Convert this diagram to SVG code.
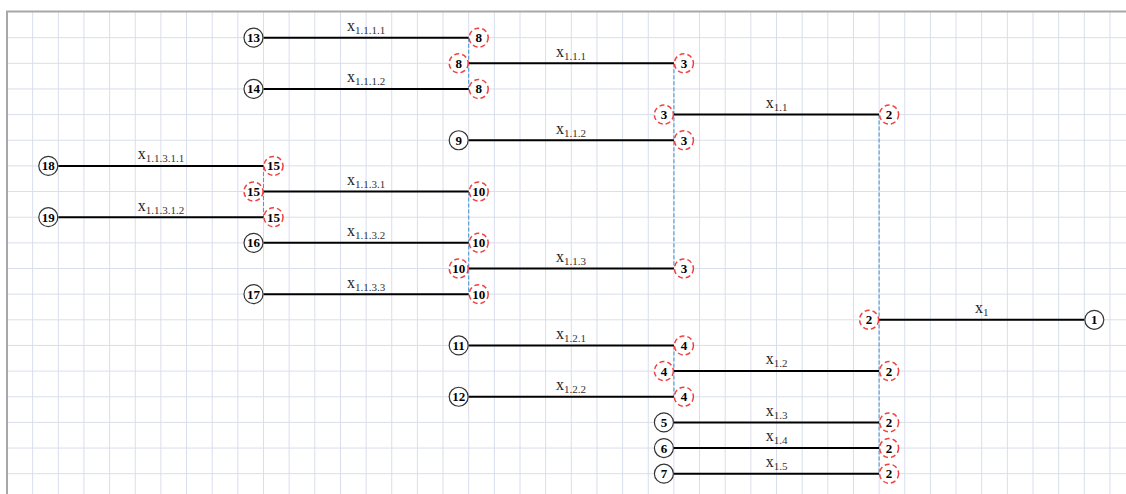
<svg xmlns="http://www.w3.org/2000/svg" width="1126" height="494" viewBox="0 0 1126 494">
<style>
.grid{stroke:#d9deec;stroke-width:1;fill:none}
.border{stroke:#a8a8a8;stroke-width:2;fill:none}
.edge{stroke:#000;stroke-width:2}
.link{stroke:#4a98d8;stroke-width:1.1;stroke-dasharray:4 2;fill:none}
.blk circle{fill:#fff;stroke:#333;stroke-width:1.2}
.red circle{fill:#fff;stroke:#f04040;stroke-width:1.5;stroke-dasharray:5 3}
.node text{font-family:"Liberation Serif",serif;font-weight:bold;font-size:13px;text-anchor:middle;fill:#000}
.lbl{font-family:"Liberation Serif",serif;font-size:16px;text-anchor:middle;fill:#222}
.lbl tspan{font-size:11px;fill:#333}
</style>
<rect width="1126" height="494" fill="#fff"/>
<g id="grid">
<path class="grid" d="M32.65 12V494M58.3 12V494M83.95 12V494M109.6 12V494M135.25 12V494M160.9 12V494M186.55 12V494M212.2 12V494M237.85 12V494M263.5 12V494M289.15 12V494M314.8 12V494M340.45 12V494M366.1 12V494M391.75 12V494M417.4 12V494M443.05 12V494M468.7 12V494M494.35 12V494M520 12V494M545.65 12V494M571.3 12V494M596.95 12V494M622.6 12V494M648.25 12V494M673.9 12V494M699.55 12V494M725.2 12V494M750.85 12V494M776.5 12V494M802.15 12V494M827.8 12V494M853.45 12V494M879.1 12V494M904.75 12V494M930.4 12V494M956.05 12V494M981.7 12V494M1007.35 12V494M1033 12V494M1058.65 12V494M1084.3 12V494M1109.95 12V494
M7 37.65H1126M7 63.3H1126M7 88.95H1126M7 114.6H1126M7 140.25H1126M7 165.9H1126M7 191.55H1126M7 217.2H1126M7 242.85H1126M7 268.5H1126M7 294.15H1126M7 319.8H1126M7 345.45H1126M7 371.1H1126M7 396.75H1126M7 422.4H1126M7 448.05H1126M7 473.7H1126"/>
<path class="border" d="M7 494V11.5H1126"/>
</g>
<g id="connectors">
<path class="link" d="M468.7 37.65V88.95M468.7 191.55V294.15M263.5 165.9V217.2M673.9 63.3V268.5M673.9 345.45V396.75M879.1 114.6V473.7"/>
<path class="edge" d="M263.5 37.65H468.7M468.7 63.3H673.9M263.5 88.95H468.7M673.9 114.6H879.1M468.7 140.25H673.9M58.3 165.9H263.5M263.5 191.55H468.7M58.3 217.2H263.5M263.5 242.85H468.7M468.7 268.5H673.9M263.5 294.15H468.7M879.1 319.8H1084.3M468.7 345.45H673.9M673.9 371.1H879.1M468.7 396.75H673.9M673.9 422.4H879.1M673.9 448.05H879.1M673.9 473.7H879.1"/>
<g id="labels">
<text class="lbl" x="366" y="31">x<tspan dy="3">1.1.1.1</tspan></text>
<text class="lbl" x="571" y="56.6">x<tspan dy="3">1.1.1</tspan></text>
<text class="lbl" x="366" y="82.3">x<tspan dy="3">1.1.1.2</tspan></text>
<text class="lbl" x="776.5" y="107.9">x<tspan dy="3">1.1</tspan></text>
<text class="lbl" x="571" y="133.6">x<tspan dy="3">1.1.2</tspan></text>
<text class="lbl" x="161" y="159.2">x<tspan dy="3">1.1.3.1.1</tspan></text>
<text class="lbl" x="366" y="184.9">x<tspan dy="3">1.1.3.1</tspan></text>
<text class="lbl" x="161" y="210.5">x<tspan dy="3">1.1.3.1.2</tspan></text>
<text class="lbl" x="366" y="236.2">x<tspan dy="3">1.1.3.2</tspan></text>
<text class="lbl" x="571" y="261.8">x<tspan dy="3">1.1.3</tspan></text>
<text class="lbl" x="366" y="287.5">x<tspan dy="3">1.1.3.3</tspan></text>
<text class="lbl" x="981.7" y="313.1">x<tspan dy="3">1</tspan></text>
<text class="lbl" x="571" y="338.8">x<tspan dy="3">1.2.1</tspan></text>
<text class="lbl" x="776.5" y="364.4">x<tspan dy="3">1.2</tspan></text>
<text class="lbl" x="571" y="390.1">x<tspan dy="3">1.2.2</tspan></text>
<text class="lbl" x="776.5" y="415.7">x<tspan dy="3">1.3</tspan></text>
<text class="lbl" x="776.5" y="441.4">x<tspan dy="3">1.4</tspan></text>
<text class="lbl" x="776.5" y="467">x<tspan dy="3">1.5</tspan></text>
</g>
</g>
<g id="n13" class="node blk" transform="translate(253.5,37.65)"><circle r="9.5"/><text y="4.5">13</text></g>
<g id="n8a" class="node red" transform="translate(478.7,37.65)"><circle r="9.5"/><text y="4.5">8</text></g>
<g id="n8b" class="node red" transform="translate(458.7,63.3)"><circle r="9.5"/><text y="4.5">8</text></g>
<g id="n3a" class="node red" transform="translate(683.9,63.3)"><circle r="9.5"/><text y="4.5">3</text></g>
<g id="n14" class="node blk" transform="translate(253.5,88.95)"><circle r="9.5"/><text y="4.5">14</text></g>
<g id="n8c" class="node red" transform="translate(478.7,88.95)"><circle r="9.5"/><text y="4.5">8</text></g>
<g id="n3b" class="node red" transform="translate(663.9,114.6)"><circle r="9.5"/><text y="4.5">3</text></g>
<g id="n2a" class="node red" transform="translate(889.1,114.6)"><circle r="9.5"/><text y="4.5">2</text></g>
<g id="n9" class="node blk" transform="translate(458.7,140.25)"><circle r="9.5"/><text y="4.5">9</text></g>
<g id="n3c" class="node red" transform="translate(683.9,140.25)"><circle r="9.5"/><text y="4.5">3</text></g>
<g id="n18" class="node blk" transform="translate(48.3,165.9)"><circle r="9.5"/><text y="4.5">18</text></g>
<g id="n15a" class="node red" transform="translate(273.5,165.9)"><circle r="9.5"/><text y="4.5">15</text></g>
<g id="n15b" class="node red" transform="translate(253.5,191.55)"><circle r="9.5"/><text y="4.5">15</text></g>
<g id="n10a" class="node red" transform="translate(478.7,191.55)"><circle r="9.5"/><text y="4.5">10</text></g>
<g id="n19" class="node blk" transform="translate(48.3,217.2)"><circle r="9.5"/><text y="4.5">19</text></g>
<g id="n15c" class="node red" transform="translate(273.5,217.2)"><circle r="9.5"/><text y="4.5">15</text></g>
<g id="n16" class="node blk" transform="translate(253.5,242.85)"><circle r="9.5"/><text y="4.5">16</text></g>
<g id="n10b" class="node red" transform="translate(478.7,242.85)"><circle r="9.5"/><text y="4.5">10</text></g>
<g id="n10c" class="node red" transform="translate(458.7,268.5)"><circle r="9.5"/><text y="4.5">10</text></g>
<g id="n3d" class="node red" transform="translate(683.9,268.5)"><circle r="9.5"/><text y="4.5">3</text></g>
<g id="n17" class="node blk" transform="translate(253.5,294.15)"><circle r="9.5"/><text y="4.5">17</text></g>
<g id="n10d" class="node red" transform="translate(478.7,294.15)"><circle r="9.5"/><text y="4.5">10</text></g>
<g id="n2b" class="node red" transform="translate(869.1,319.8)"><circle r="9.5"/><text y="4.5">2</text></g>
<g id="n1" class="node blk" transform="translate(1094.3,319.8)"><circle r="9.5"/><text y="4.5">1</text></g>
<g id="n11" class="node blk" transform="translate(458.7,345.45)"><circle r="9.5"/><text y="4.5">11</text></g>
<g id="n4a" class="node red" transform="translate(683.9,345.45)"><circle r="9.5"/><text y="4.5">4</text></g>
<g id="n4b" class="node red" transform="translate(663.9,371.1)"><circle r="9.5"/><text y="4.5">4</text></g>
<g id="n2c" class="node red" transform="translate(889.1,371.1)"><circle r="9.5"/><text y="4.5">2</text></g>
<g id="n12" class="node blk" transform="translate(458.7,396.75)"><circle r="9.5"/><text y="4.5">12</text></g>
<g id="n4c" class="node red" transform="translate(683.9,396.75)"><circle r="9.5"/><text y="4.5">4</text></g>
<g id="n5" class="node blk" transform="translate(663.9,422.4)"><circle r="9.5"/><text y="4.5">5</text></g>
<g id="n2d" class="node red" transform="translate(889.1,422.4)"><circle r="9.5"/><text y="4.5">2</text></g>
<g id="n6" class="node blk" transform="translate(663.9,448.05)"><circle r="9.5"/><text y="4.5">6</text></g>
<g id="n2e" class="node red" transform="translate(889.1,448.05)"><circle r="9.5"/><text y="4.5">2</text></g>
<g id="n7" class="node blk" transform="translate(663.9,473.7)"><circle r="9.5"/><text y="4.5">7</text></g>
<g id="n2f" class="node red" transform="translate(889.1,473.7)"><circle r="9.5"/><text y="4.5">2</text></g>
</svg>
